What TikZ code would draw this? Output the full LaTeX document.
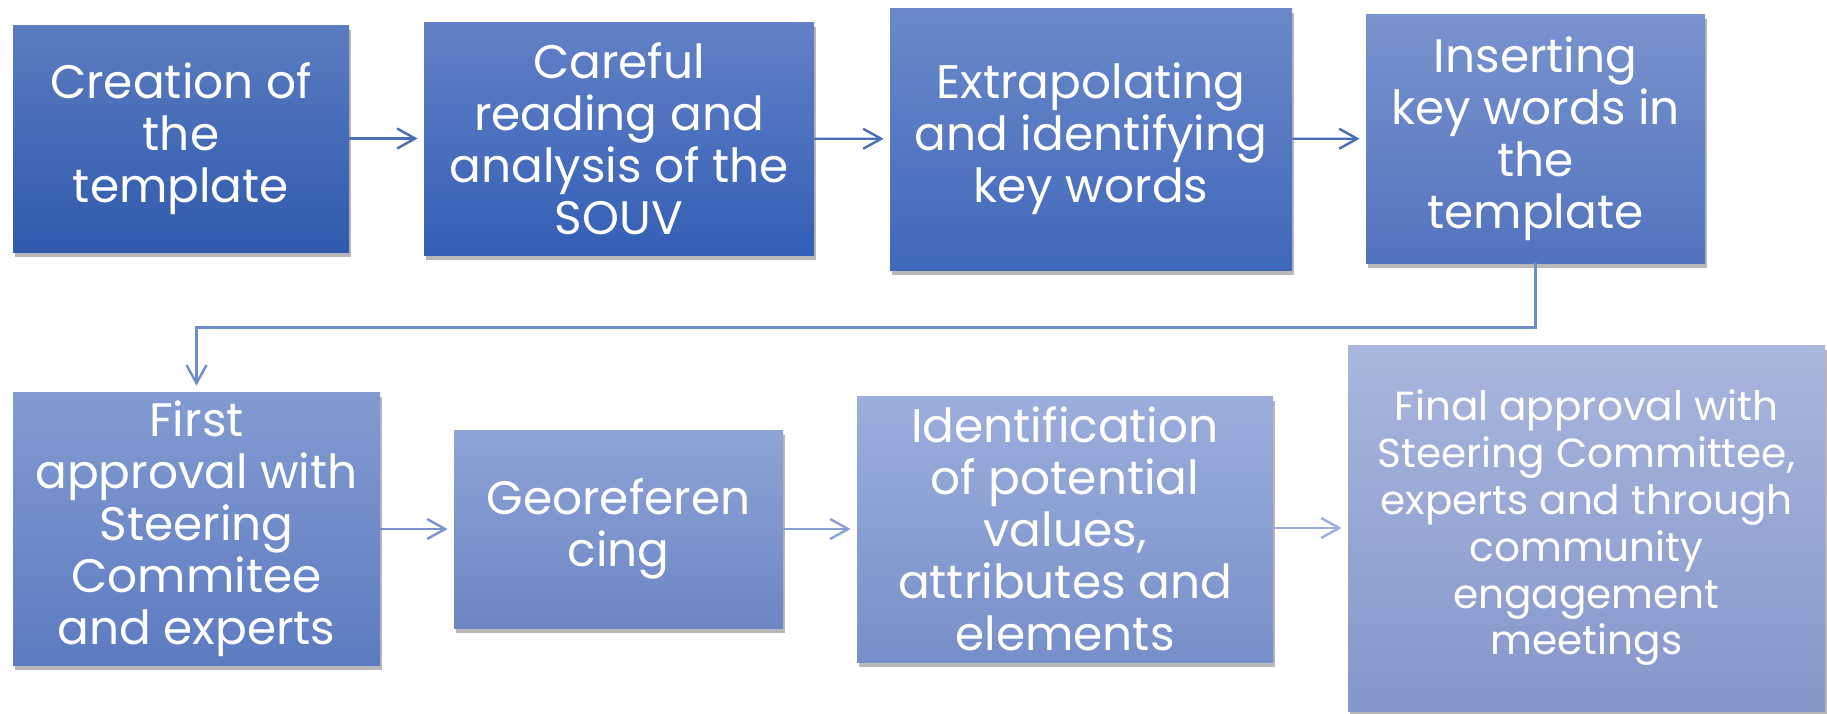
\documentclass[tikz,border=0pt]{standalone}
\usepackage{fontspec}
\setmainfont{Poppins}
\usetikzlibrary{arrows.meta,shadows}
\definecolor{aTop}{HTML}{4A6DB8}
\definecolor{aMid}{HTML}{6F8CCB}
\definecolor{aB1}{HTML}{7A93CE}
\definecolor{aB2}{HTML}{8AA0D5}
\definecolor{aB3}{HTML}{9AAEDC}
\tikzset{
  stepbox/.style={rectangle, inner sep=0pt, align=center, text=white,
    font=\fontsize{23.5}{26}\selectfont,
    drop shadow={shadow xshift=1pt, shadow yshift=-2.5pt, opacity=0.28, fill=black}},
  conn/.style={line width=1.2pt, -{Straight Barb[length=9pt,width=10pt,line width=1.2pt]}, shorten >=3pt},
}
\begin{document}
\begin{tikzpicture}[x=0.5pt,y=-0.5pt]
\useasboundingbox (0,0) rectangle (1827,713);
\clip (0,0) rectangle (1827,713);
\node[stepbox, minimum width=168pt, minimum height=113.5pt, top color={rgb,255:red,91;green,124;blue,192}, bottom color={rgb,255:red,47;green,90;blue,172}] (b1) at (181,138.5) {Creation of\\the\\template};
\node[stepbox, minimum width=195pt, minimum height=116.5pt, top color={rgb,255:red,98;green,129;blue,198}, bottom color={rgb,255:red,52;green,95;blue,181}] (b2) at (619,138.5) {Careful\\reading and\\analysis of the\\SOUV};
\node[stepbox, minimum width=201pt, minimum height=131pt, top color={rgb,255:red,107;green,137;blue,201}, bottom color={rgb,255:red,64;green,104;blue,186}] (b3) at (1091,139) {Extrapolating\\and identifying\\key words};
\node[stepbox, minimum width=169.5pt, minimum height=124.5pt, top color={rgb,255:red,121;green,147;blue,206}, bottom color={rgb,255:red,82;green,115;blue,189}] (b4) at (1535.5,138.5) {Inserting\\key words in\\the\\template};
\node[stepbox, minimum width=183.5pt, minimum height=136.5pt, top color={rgb,255:red,131;green,155;blue,209}, bottom color={rgb,255:red,92;green,123;blue,192}] (b5) at (196.5,528.5) {First\\approval with\\Steering\\Commitee\\and experts};
\node[stepbox, minimum width=164.5pt, minimum height=99pt, top color={rgb,255:red,143;green,164;blue,214}, bottom color={rgb,255:red,108;green,134;blue,196}] (b6) at (618.5,529) {Georeferen\\cing};
\node[stepbox, minimum width=208pt, minimum height=133pt, top color={rgb,255:red,156;green,174;blue,219}, bottom color={rgb,255:red,119;green,143;blue,201}] (b7) at (1065,529) {Identification\\of potential\\values,\\attributes and\\elements};
\node[stepbox, font=\fontsize{20.3}{23.4}\selectfont, minimum width=238.5pt, minimum height=183pt, top color={rgb,255:red,169;green,183;blue,222}, bottom color={rgb,255:red,133;green,150;blue,201}] (b8) at (1586.5,528) {Final approval with\\Steering Committee,\\experts and through\\community\\engagement\\meetings};
\draw[conn, aTop] (b1) -- (b2);
\draw[conn, aTop] (b2) -- (b3);
\draw[conn, aTop] (b3) -- (b4);
\draw[conn, aMid] (b4.south) -- ++(0,64) -| (b5.north);
\draw[conn, aB1] (b5.east |- b6.west) -- (b6.west);
\draw[conn, aB2] (b6) -- (b7);
\draw[conn, aB3] (b7.east |- b8.west) -- (b8.west);
\end{tikzpicture}
\end{document}
